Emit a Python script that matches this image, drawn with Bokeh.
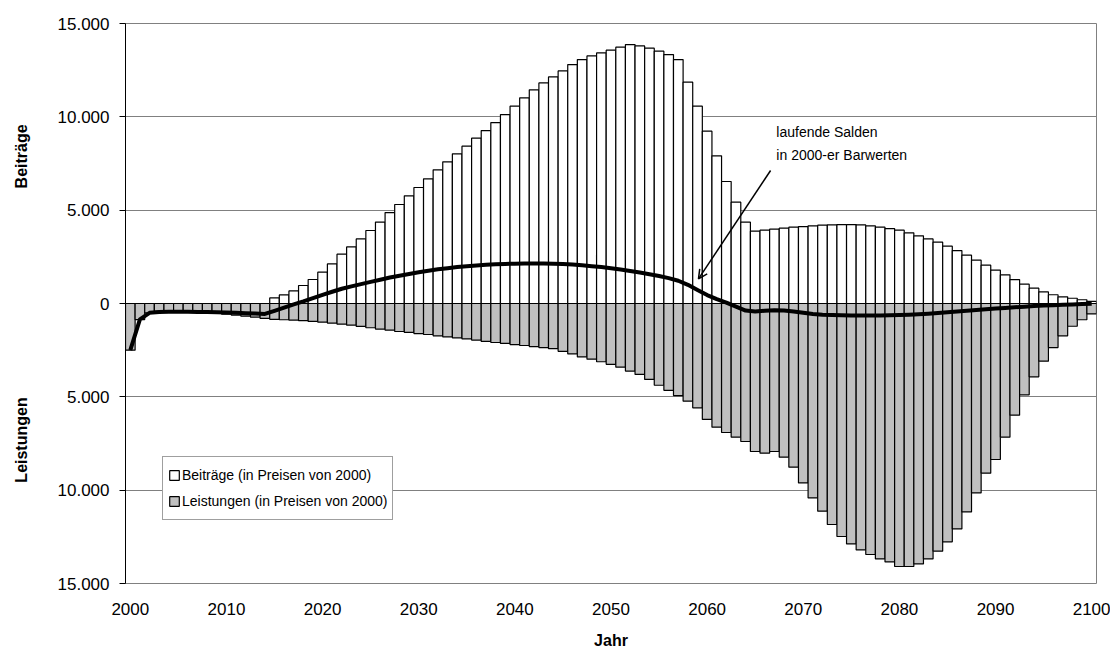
import numpy as np
from bokeh.plotting import figure
from bokeh.models import FixedTicker, Span, Label, Arrow, OpenHead, Legend, LegendItem, ColumnDataSource
from bokeh.embed import file_html
from bokeh.resources import INLINE

# ---------------- data ----------------
years = list(range(2000, 2101))

beitraege = [0] * 15 + [
    300, 460, 675, 964, 1285, 1677, 2121, 2641, 3032, 3461,          # 2015-2024
    3911, 4360, 4870, 5303, 5767, 6214, 6678, 7160, 7589, 8017,      # 2025-2034
    8427, 8855, 9266, 9694, 10123, 10569, 11016, 11445, 11817, 12139, # 2035-2044
    12461, 12800, 13068, 13264, 13425, 13570, 13730, 13871, 13800, 13677,  # 2045-2054
    13516, 13337, 13068, 11855, 10569, 9230, 7909, 6535, 5430, 4355,  # 2055-2064
    3873, 3927, 3980, 4034, 4087, 4123, 4159, 4195, 4212, 4230,       # 2065-2074
    4230, 4212, 4159, 4087, 4016, 3927, 3784, 3623, 3461, 3283,       # 2075-2084
    3069, 2837, 2587, 2320, 2052, 1784, 1534, 1284, 1034, 820,        # 2085-2094
    621, 470, 360, 280, 200, 115,                                     # 2095-2100
]

leistungen = [
    2500, 860, 500, 420, 420, 420, 440, 450, 480, 530,                # 2000-2009
    570, 620, 680, 730, 800, 850, 870, 890, 920, 960,                 # 2010-2019
    1000, 1050, 1110, 1160, 1230, 1300, 1370, 1430, 1500, 1550,       # 2020-2029
    1610, 1660, 1730, 1790, 1840, 1900, 1960, 2030, 2090, 2140,       # 2030-2039
    2200, 2250, 2310, 2360, 2420, 2560, 2700, 2860, 2980, 3120,       # 2040-2049
    3260, 3410, 3620, 3800, 4070, 4380, 4650, 4930, 5230, 5590,       # 2050-2059
    6210, 6627, 6911, 7162, 7393, 7929, 8020, 7929, 8233, 8769,       # 2060-2069
    9610, 10414, 11127, 11840, 12483, 12879, 13200, 13446, 13682, 13843,  # 2070-2079
    14090, 14090, 13950, 13682, 13270, 12770, 12075, 11163, 10146, 9091,  # 2080-2089
    8357, 7162, 5984, 4895, 3930, 3090, 2360, 1730, 1220, 870,        # 2090-2099
    557,                                                              # 2100
]

salden = [
    -2500, -850, -500, -450, -440, -440, -440, -450, -460, -470,      # 2000-2009
    -480, -500, -520, -540, -560, -390, -220, -50, 110, 290,          # 2010-2019
    460, 630, 790, 920, 1040, 1160, 1270, 1390, 1490, 1580,           # 2020-2029
    1670, 1750, 1830, 1890, 1950, 2000, 2040, 2070, 2100, 2120,       # 2030-2039
    2130, 2140, 2140, 2140, 2130, 2110, 2090, 2050, 2000, 1950,       # 2040-2049
    1890, 1820, 1740, 1660, 1570, 1470, 1360, 1220, 1000, 720,        # 2050-2059
    450, 230, 50, -170, -380, -430, -390, -360, -380, -430,           # 2060-2069
    -500, -560, -600, -620, -630, -640, -640, -640, -640, -630,       # 2070-2079
    -620, -600, -580, -550, -510, -470, -430, -390, -350, -310,       # 2080-2089
    -270, -235, -200, -170, -140, -110, -90, -70, -50, -30,           # 2090-2099
    -10,                                                              # 2100
]

y_ticks = [-15000, -10000, -5000, 0, 5000, 10000, 15000]
y_tick_labels = ["15.000", "10.000", "5.000", "0", "5.000", "10.000", "15.000"]
x_ticks = list(range(2000, 2101, 10))

label_beitraege = "Beiträge (in Preisen von 2000)"
label_leistungen = "Leistungen (in Preisen von 2000)"
y_title_top = "Beiträge"
y_title_bottom = "Leistungen"

# ---------------- figure ----------------
FONT = "Liberation Sans"

p = figure(frame_width=971, frame_height=560,
           x_range=(1999.5, 2100.5), y_range=(-15000, 15000),
           output_backend="svg", toolbar_location=None,
           min_border_left=125, min_border_right=14,
           min_border_top=23, min_border_bottom=40)

p.background_fill_color = "white"
p.outline_line_color = "#808080"
p.outline_line_width = 1

src = ColumnDataSource(dict(
    year=years,
    b=beitraege,
    l=[-v for v in leistungen],
    s=salden,
))

r_b = p.vbar(x="year", top="b", bottom=0, width=1.0, source=src,
             fill_color="white", line_color="black", line_width=1.2)
r_l = p.vbar(x="year", top=0, bottom="l", width=1.0, source=src,
             fill_color="#C0C0C0", line_color="black", line_width=1.2)

p.add_layout(Span(location=0, dimension="width", line_color="black",
                  line_width=1.2, level="underlay"))

p.line(x="year", y="s", source=src, line_color="black", line_width=4,
       line_join="round")

# axes
p.yaxis.ticker = FixedTicker(ticks=y_ticks)
p.yaxis.major_label_overrides = {t: lab for t, lab in zip(y_ticks, y_tick_labels)}
p.yaxis.minor_tick_line_color = None
p.yaxis.major_tick_in = 0
p.yaxis.major_tick_out = 6
p.yaxis.major_tick_line_color = "black"
p.yaxis.axis_line_color = "black"
p.yaxis.major_label_text_font = FONT
p.yaxis.major_label_text_font_size = "17px"
p.yaxis.major_label_text_color = "black"
p.yaxis.major_label_standoff = 10
# two titles on the vertical axis (read bottom-to-top): Leistungen below, Beiträge above
p.yaxis.axis_label = y_title_bottom + "\u00a0" * 47 + y_title_top
p.yaxis.axis_label_text_font = FONT
p.yaxis.axis_label_text_font_style = "bold"
p.yaxis.axis_label_text_font_size = "16px"
p.yaxis.axis_label_text_color = "black"
p.yaxis.axis_label_standoff = 25

p.xaxis.ticker = FixedTicker(ticks=x_ticks)
p.xaxis.minor_tick_line_color = None
p.xaxis.major_tick_line_color = None
p.xaxis.axis_line_color = None
p.xaxis.major_label_text_font = FONT
p.xaxis.major_label_text_font_size = "17px"
p.xaxis.major_label_text_color = "black"
p.xaxis.major_label_standoff = 13
p.xaxis.axis_label = "Jahr"
p.xaxis.axis_label_text_font = FONT
p.xaxis.axis_label_text_font_style = "bold"
p.xaxis.axis_label_text_font_size = "16px"
p.xaxis.axis_label_text_color = "black"
p.xaxis.axis_label_standoff = 14

p.xgrid.grid_line_color = None
p.ygrid.ticker = FixedTicker(ticks=y_ticks)
p.ygrid.grid_line_color = "#808080"
p.ygrid.grid_line_width = 1

# annotation
p.add_layout(Arrow(end=OpenHead(size=9, line_width=1.5, line_color="black"),
                   x_start=2066.6, y_start=7125, x_end=2059.1, y_end=1318,
                   line_width=1.5, line_color="black"))
p.add_layout(Label(x=2067.2, y=9190, text="laufende Salden",
                   text_baseline="middle", text_font=FONT,
                   text_font_size="14px", text_color="black"))
p.add_layout(Label(x=2067.2, y=7980, text="in 2000-er Barwerten",
                   text_baseline="middle", text_font=FONT,
                   text_font_size="14px", text_color="black"))

# legend
legend = Legend(items=[LegendItem(label=label_beitraege, renderers=[r_b]),
                       LegendItem(label=label_leistungen, renderers=[r_l])],
                location=(37, 63), orientation="vertical")
legend.label_text_font = FONT
legend.label_text_font_size = "14px"
legend.label_text_color = "black"
legend.glyph_width = 12
legend.glyph_height = 12
legend.label_height = 26
legend.label_standoff = 2
legend.spacing = 0
legend.padding = 5
legend.margin = 0
legend.border_line_color = "#404040"
legend.border_line_width = 1
legend.background_fill_alpha = 1.0
p.add_layout(legend)

open("out.html", "w").write(file_html(p, INLINE))
